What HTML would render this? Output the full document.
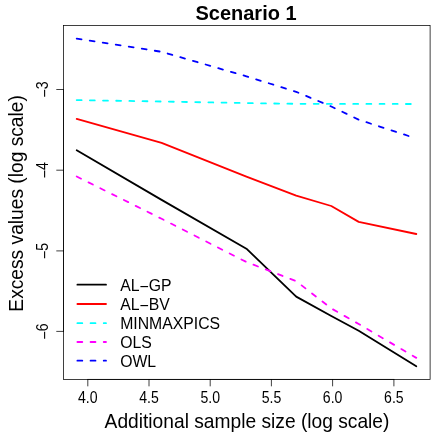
<!DOCTYPE html>
<html><head><meta charset="utf-8"><style>
html,body{margin:0;padding:0;background:#fff;}
svg{display:block;will-change:transform;}
text{font-family:"Liberation Sans",sans-serif;fill:#000;}
</style></head><body>
<svg xmlns="http://www.w3.org/2000/svg" width="443" height="443" viewBox="0 0 443 443">
<rect width="443" height="443" fill="#fff"/>
<rect x="63.5" y="25.5" width="366.6" height="353.95" stroke="#000" stroke-width="0.75" stroke-linecap="round" fill="none"/>
<path d="M87.8,379.45 L393.9,379.45" stroke="#000" stroke-width="0.75" stroke-linecap="round" fill="none"/>
<path d="M87.8,379.45 L87.8,385.95" stroke="#000" stroke-width="0.75" stroke-linecap="round" fill="none"/>
<text transform="translate(87.75,402.90) scale(1,1.12)" font-size="14.1" text-anchor="middle">4.0</text>
<path d="M149.0,379.45 L149.0,385.95" stroke="#000" stroke-width="0.75" stroke-linecap="round" fill="none"/>
<text transform="translate(148.97,402.90) scale(1,1.12)" font-size="14.1" text-anchor="middle">4.5</text>
<path d="M210.2,379.45 L210.2,385.95" stroke="#000" stroke-width="0.75" stroke-linecap="round" fill="none"/>
<text transform="translate(210.20,402.90) scale(1,1.12)" font-size="14.1" text-anchor="middle">5.0</text>
<path d="M271.4,379.45 L271.4,385.95" stroke="#000" stroke-width="0.75" stroke-linecap="round" fill="none"/>
<text transform="translate(271.43,402.90) scale(1,1.12)" font-size="14.1" text-anchor="middle">5.5</text>
<path d="M332.6,379.45 L332.6,385.95" stroke="#000" stroke-width="0.75" stroke-linecap="round" fill="none"/>
<text transform="translate(332.65,402.90) scale(1,1.12)" font-size="14.1" text-anchor="middle">6.0</text>
<path d="M393.9,379.45 L393.9,385.95" stroke="#000" stroke-width="0.75" stroke-linecap="round" fill="none"/>
<text transform="translate(393.88,402.90) scale(1,1.12)" font-size="14.1" text-anchor="middle">6.5</text>
<path d="M63.5,89.5 L63.5,331.4" stroke="#000" stroke-width="0.75" stroke-linecap="round" fill="none"/>
<path d="M63.5,89.5 L56.7,89.5" stroke="#000" stroke-width="0.75" stroke-linecap="round" fill="none"/>
<text transform="translate(48.30,89.50) rotate(-90) scale(1,1.12)" font-size="14.1" text-anchor="middle"><tspan dy="1.8">−</tspan><tspan dy="-1.8">3</tspan></text>
<path d="M63.5,170.2 L56.7,170.2" stroke="#000" stroke-width="0.75" stroke-linecap="round" fill="none"/>
<text transform="translate(48.30,170.20) rotate(-90) scale(1,1.12)" font-size="14.1" text-anchor="middle"><tspan dy="1.8">−</tspan><tspan dy="-1.8">4</tspan></text>
<path d="M63.5,250.9 L56.7,250.9" stroke="#000" stroke-width="0.75" stroke-linecap="round" fill="none"/>
<text transform="translate(48.30,250.90) rotate(-90) scale(1,1.12)" font-size="14.1" text-anchor="middle"><tspan dy="1.8">−</tspan><tspan dy="-1.8">5</tspan></text>
<path d="M63.5,331.4 L56.7,331.4" stroke="#000" stroke-width="0.75" stroke-linecap="round" fill="none"/>
<text transform="translate(48.30,331.40) rotate(-90) scale(1,1.12)" font-size="14.1" text-anchor="middle"><tspan dy="1.8">−</tspan><tspan dy="-1.8">6</tspan></text>
<text transform="translate(246.00,19.70) scale(1,1.03)" font-size="20" text-anchor="middle" font-weight="bold">Scenario 1</text>
<text transform="translate(247.00,428.40) scale(1,1.07)" font-size="19.2" text-anchor="middle">Additional sample size (log scale)</text>
<text transform="translate(22.90,203.40) rotate(-90) scale(1,1.07)" font-size="19.2" text-anchor="middle">Excess values (log scale)</text>
<path d="M77.4,284.7 L106,284.7" stroke="#000000" stroke-width="1.8" fill="none" stroke-linecap="round"/>
<text transform="translate(120.20,290.50) scale(1,1.03)" font-size="15.8" text-anchor="start">AL<tspan dy="1.0">−</tspan><tspan dy="-1.0">GP</tspan></text>
<path d="M77.4,304.0 L106,304.0" stroke="#ff0000" stroke-width="1.8" fill="none" stroke-linecap="round"/>
<text transform="translate(120.20,309.80) scale(1,1.03)" font-size="15.8" text-anchor="start">AL<tspan dy="1.0">−</tspan><tspan dy="-1.0">BV</tspan></text>
<path d="M77.4,323.2 L106,323.2" stroke="#00ffff" stroke-width="1.8" fill="none" stroke-linecap="round" stroke-dasharray="4.9 8.27"/>
<text transform="translate(120.20,329.00) scale(1,1.03)" font-size="15.8" text-anchor="start">MINMAXPICS</text>
<path d="M77.4,342.0 L106,342.0" stroke="#ff00ff" stroke-width="1.8" fill="none" stroke-linecap="round" stroke-dasharray="4.9 8.27"/>
<text transform="translate(120.20,347.80) scale(1,1.03)" font-size="15.8" text-anchor="start">OLS</text>
<path d="M77.4,360.7 L106,360.7" stroke="#0000ff" stroke-width="1.8" fill="none" stroke-linecap="round" stroke-dasharray="4.9 8.27"/>
<text transform="translate(120.20,366.50) scale(1,1.03)" font-size="15.8" text-anchor="start">OWL</text>
<path d="M76.7,150.3 L161.6,199.9 L246.4,248.7 L296.2,296.6 L331.3,316.0 L358.7,330.7 L416.3,366.3" stroke="#000000" stroke-width="1.8" fill="none" stroke-linecap="round" stroke-linejoin="round"/>
<path d="M76.7,118.9 L161.6,142.8 L246.4,176.6 L296.2,195.7 L331.3,206.0 L358.7,221.9 L416.3,234.0" stroke="#ff0000" stroke-width="1.8" fill="none" stroke-linecap="round" stroke-linejoin="round"/>
<path d="M76.7,100.1 L161.6,101.5 L246.4,103.1 L296.2,103.8 L331.3,103.9 L358.7,103.9 L416.3,104.0" stroke="#00ffff" stroke-width="1.8" fill="none" stroke-linecap="round" stroke-linejoin="round" stroke-dasharray="4.9 8.27"/>
<path d="M76.7,176.5 L161.6,218.8 L246.4,262.0 L296.2,281.2 L331.3,308.4 L358.7,324.0 L416.3,357.9" stroke="#ff00ff" stroke-width="1.8" fill="none" stroke-linecap="round" stroke-linejoin="round" stroke-dasharray="4.9 8.27"/>
<path d="M76.7,38.6 L161.6,51.8 L246.4,76.3 L296.2,91.8 L331.3,106.5 L358.7,119.7 L416.3,138.5" stroke="#0000ff" stroke-width="1.8" fill="none" stroke-linecap="round" stroke-linejoin="round" stroke-dasharray="4.9 8.27"/>
</svg>
</body></html>
